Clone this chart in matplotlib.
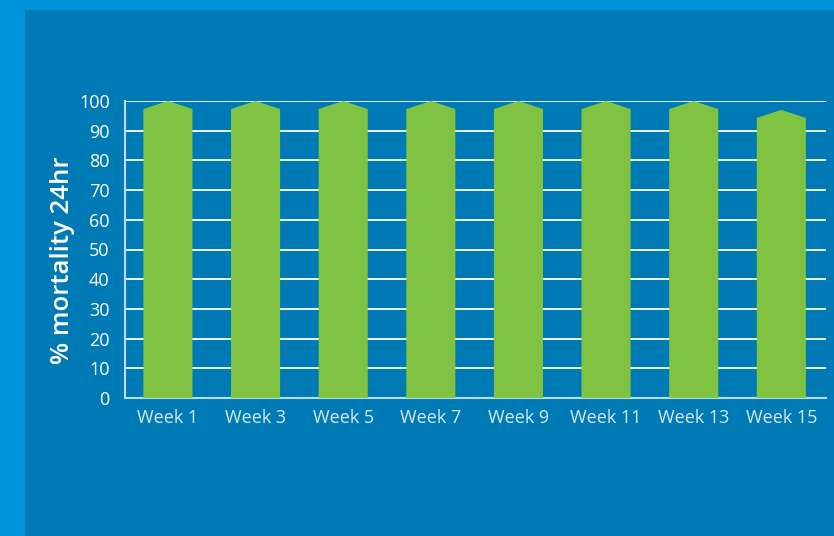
import matplotlib.pyplot as plt
from matplotlib.patches import Polygon, Rectangle

weeks = ["Week 1", "Week 3", "Week 5", "Week 7", "Week 9", "Week 11", "Week 13", "Week 15"]
mortality = [100, 100, 100, 100, 100, 100, 100, 97]
yticks = [0, 10, 20, 30, 40, 50, 60, 70, 80, 90, 100]

light_blue = '#0095da'
dark_blue = '#007ab4'
green = '#80c241'
pale = '#d6ecf7'

plt.rcParams['font.family'] = ['Open Sans', 'DejaVu Sans']

fig = plt.figure(figsize=(8.34, 5.36), dpi=100)
fig.patch.set_facecolor(light_blue)
fig.patches.append(Rectangle((25 / 834, 0), 1, 1 - 10 / 536, transform=fig.transFigure,
                             facecolor=dark_blue, edgecolor='none', zorder=-10))

ax = fig.add_axes([125 / 834, 1 - 398 / 536, 701 / 834, 297 / 536])
ax.set_facecolor('none')
ax.set_zorder(5)

# bars with a pointed top, peak sits at the value
bar_w = 0.56
tip = 2.7
for i, v in enumerate(mortality):
    x0, x1 = i - bar_w / 2, i + bar_w / 2
    pts = [(x0, 0), (x0, v - tip), (i, v), (x1, v - tip), (x1, 0)]
    ax.add_patch(Polygon(pts, closed=True, facecolor=green, edgecolor='none', zorder=3))

ax.set_xlim(-0.49, 7.51)
ax.set_ylim(0, 100)
ax.set_yticks(yticks)
ax.set_xticks(range(len(weeks)))
ax.set_xticklabels(weeks)

ax.yaxis.grid(True, color='white', linewidth=1.3, zorder=1)
ax.set_axisbelow(True)
ax.tick_params(axis='both', length=0, labelsize=13, colors=pale)
ax.tick_params(axis='y', pad=11, colors='white')
ax.tick_params(axis='x', pad=8)

for s in ['top', 'right']:
    ax.spines[s].set_visible(False)
for s in ['left', 'bottom']:
    ax.spines[s].set_color('#bcdcee')
    ax.spines[s].set_linewidth(1.5)

ax.set_ylabel("% mortality 24hr", color='white', fontsize=18.5, fontweight='semibold')
ax.yaxis.set_label_coords(-50 / 701, 0.465)

fig.savefig('out.png', dpi=100, facecolor=fig.get_facecolor())
